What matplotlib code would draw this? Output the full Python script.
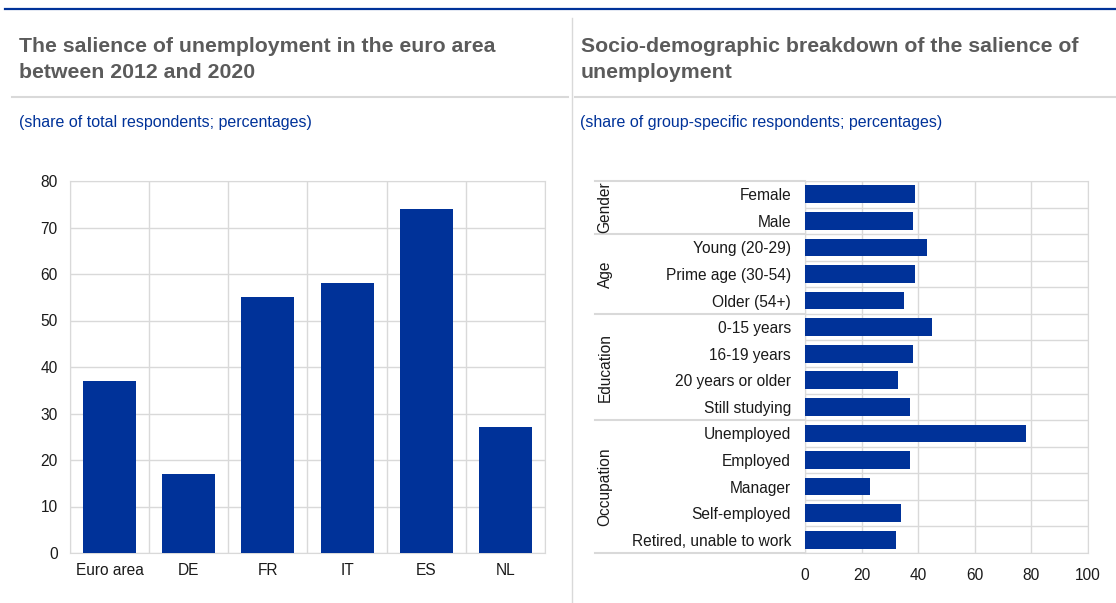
import matplotlib
matplotlib.use("Agg")
import matplotlib.pyplot as plt
from matplotlib.lines import Line2D
import numpy as np

plt.rcParams['font.family'] = ['Liberation Sans', 'DejaVu Sans']

ECB_BLUE = '#003299'
GRID = '#d9d9d9'
TITLE_GREY = '#5b5b5b'
TEXT = '#1a1a1a'

# left panel data
countries = ['Euro area', 'DE', 'FR', 'IT', 'ES', 'NL']
country_share = [37, 17, 55, 58, 74, 27]

# right panel data
groups = ['Gender', 'Age', 'Education', 'Occupation']
group_sizes = [2, 3, 4, 5]
categories = ['Female', 'Male',
              'Young (20-29)', 'Prime age (30-54)', 'Older (54+)',
              '0-15 years', '16-19 years', '20 years or older', 'Still studying',
              'Unemployed', 'Employed', 'Manager', 'Self-employed', 'Retired, unable to work']
category_share = [39, 38, 43, 39, 35, 45, 38, 33, 37, 78, 37, 23, 34, 32]

W, H = 1116, 603
fig = plt.figure(figsize=(W / 100, H / 100), dpi=100)


def px(x0, y0, x1, y1):
	# pixel box (top-left origin) -> figure fraction rect
	return [x0 / W, 1 - y1 / H, (x1 - x0) / W, (y1 - y0) / H]


# frame lines
fig.add_artist(Line2D([5 / W, 1], [1 - 9 / H, 1 - 9 / H], color=ECB_BLUE, lw=1.6))
fig.add_artist(Line2D([572 / W, 572 / W], [0, 1 - 18 / H], color=GRID, lw=1))
fig.add_artist(Line2D([12 / W, 568 / W], [1 - 97 / H, 1 - 97 / H], color=GRID, lw=1.5))
fig.add_artist(Line2D([575 / W, 1], [1 - 97 / H, 1 - 97 / H], color=GRID, lw=1.5))

# titles
fig.text(19 / W, 1 - 37 / H, 'The salience of unemployment in the euro area\nbetween 2012 and 2020',
         ha='left', va='top', fontsize=15.3, fontweight='bold', color=TITLE_GREY, linespacing=1.5)
fig.text(581 / W, 1 - 37 / H, 'Socio-demographic breakdown of the salience of\nunemployment',
         ha='left', va='top', fontsize=15.3, fontweight='bold', color=TITLE_GREY, linespacing=1.5)
fig.text(19 / W, 1 - 122 / H, '(share of total respondents; percentages)',
         ha='left', va='center', fontsize=11.5, color=ECB_BLUE)
fig.text(580 / W, 1 - 122 / H, '(share of group-specific respondents; percentages)',
         ha='left', va='center', fontsize=11.5, color=ECB_BLUE)

# left: vertical bars
ax1 = fig.add_axes(px(70, 181, 545, 553))
x = np.arange(len(countries))
ax1.bar(x, country_share, width=0.67, color=ECB_BLUE, zorder=3)
ax1.set_xlim(-0.5, len(countries) - 0.5)
ax1.set_ylim(0, 80)
ax1.set_yticks(range(0, 81, 10))
ax1.set_xticks(x)
ax1.set_xticklabels(countries)
ax1.set_xticks(np.arange(-0.5, len(countries), 1), minor=True)
ax1.grid(axis='y', color=GRID, lw=1, zorder=0)
ax1.grid(axis='x', which='minor', color=GRID, lw=1, zorder=0)
ax1.tick_params(which='both', length=0, labelsize=11.2, colors=TEXT, pad=7)
ax1.tick_params(axis='y', pad=9)
for s in ax1.spines.values():
	s.set_color(GRID)

# right: horizontal bars with group labels
ax2 = fig.add_axes(px(805, 181, 1088, 553))
y = np.arange(len(categories))
ax2.barh(y, category_share, height=0.67, color=ECB_BLUE, zorder=3)
ax2.set_ylim(len(categories) - 0.5, -0.5)
ax2.set_xlim(0, 100)
ax2.set_xticks(range(0, 101, 20))
ax2.set_yticks(y)
ax2.set_yticklabels(categories)
ax2.set_yticks(np.arange(-0.5, len(categories), 1), minor=True)
ax2.grid(axis='x', color=GRID, lw=1, zorder=0)
ax2.grid(axis='y', which='minor', color=GRID, lw=1, zorder=0)
ax2.tick_params(which='both', length=0, labelsize=11.2, colors=TEXT)
ax2.tick_params(axis='y', pad=10)
ax2.tick_params(axis='x', pad=11)
for s in ax2.spines.values():
	s.set_color(GRID)

trans = ax2.get_yaxis_transform()
left_edge = (595 - 805) / (1088 - 805)
label_x = (605 - 805) / (1088 - 805)
start = 0
bounds = [-0.5]
for name, n in zip(groups, group_sizes):
	end = start + n
	bounds.append(end - 0.5)
	ax2.text(label_x, (start + end - 1) / 2, name, rotation=90, ha='center', va='center',
	         fontsize=11.2, color=TEXT, transform=trans)
	start = end
for b in bounds:
	ax2.plot([left_edge, 0], [b, b], color=GRID, lw=1.5, transform=trans, clip_on=False)

fig.savefig('out.png', dpi=100)
